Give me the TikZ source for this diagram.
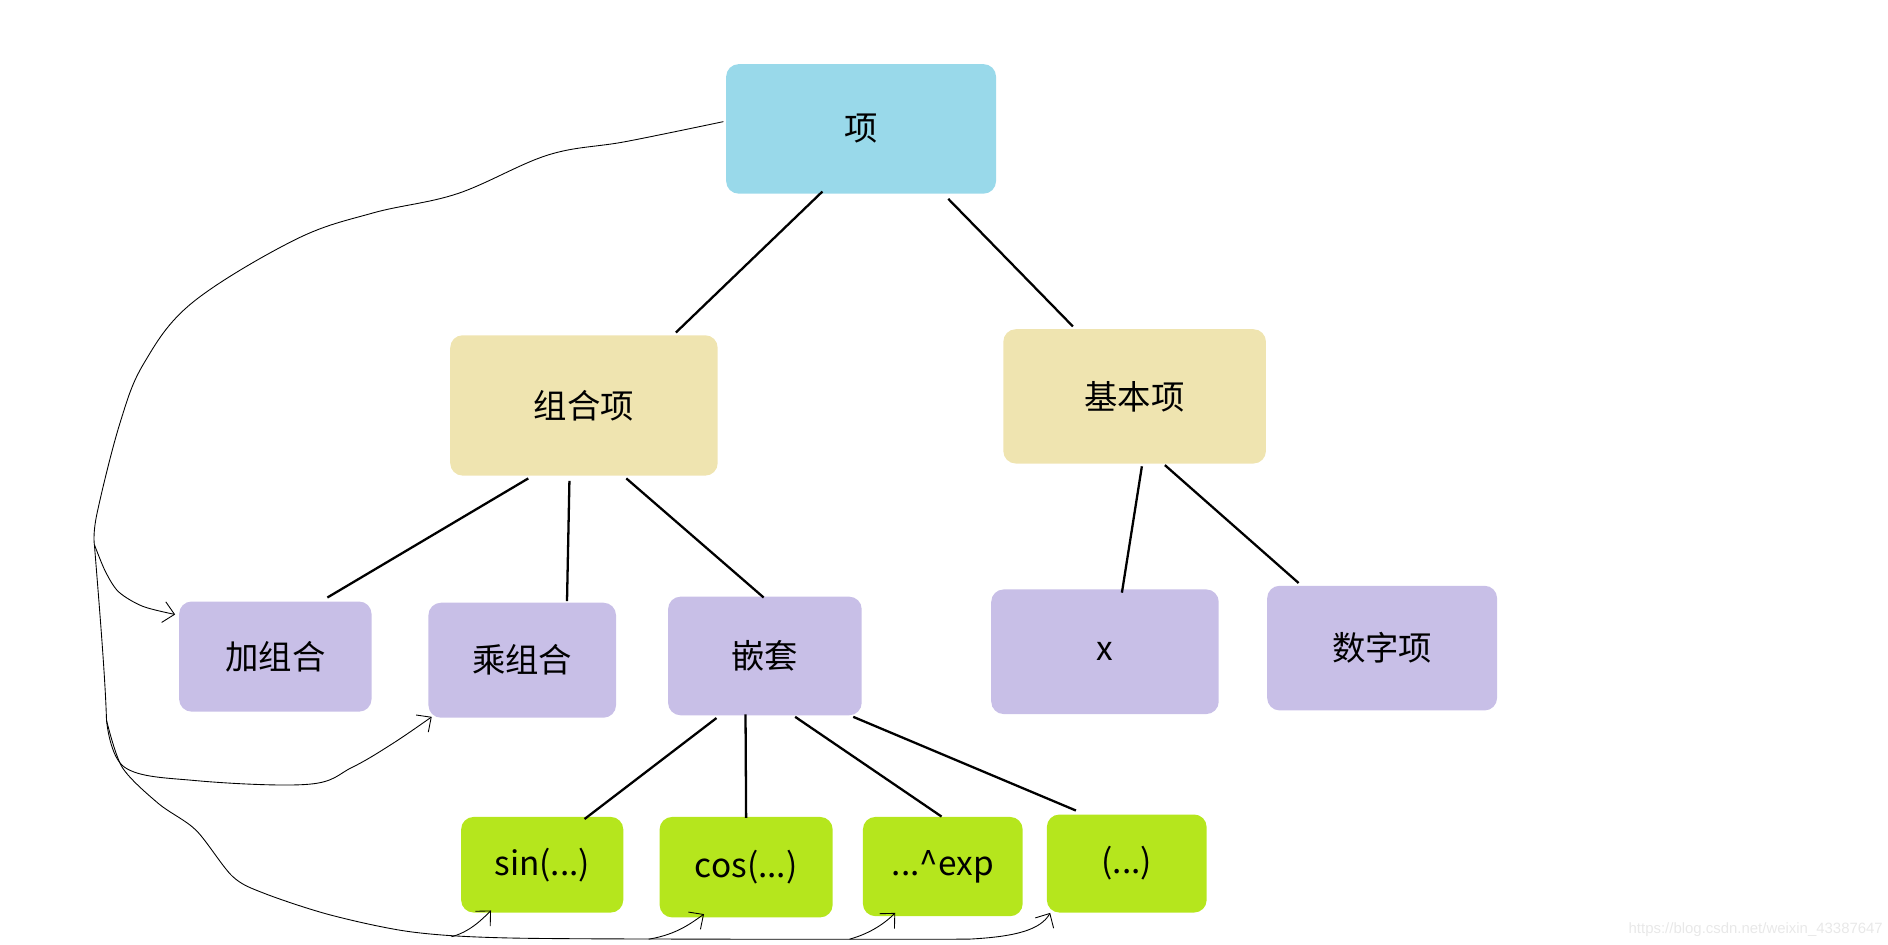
\documentclass[tikz,border=0pt]{standalone}
\usepackage{fontspec}
\setmainfont{Noto Sans CJK SC}
\newfontfamily\marksans{Liberation Sans}
\usetikzlibrary{calc,arrows.meta}
\newcommand\pxu{0.0242cm}
\definecolor{paintblue}{HTML}{99D9EA}
\definecolor{paintbeige}{HTML}{EFE4B0}
\definecolor{paintlilac}{HTML}{C8BFE7}
\definecolor{paintlime}{HTML}{B5E61D}
\tikzset{
  termbox/.style n args={3}{shape=rectangle, rounded corners=0.25cm, fill=#1,
    minimum width=#2*\pxu, minimum height=#3*\pxu, inner sep=0pt,
    font=\fontsize{19}{22}\selectfont, text=black},
  edge/.style={line width=1.3pt, black},
  hand/.style={line width=0.5pt, black},
  handtip/.style={-{Straight Barb[length=2.2mm,width=4.2mm]}}
}
\begin{document}
\begin{tikzpicture}[x=\pxu, y=-\pxu]
\useasboundingbox (0,0) rectangle (1560,780);

% boxes
\node[termbox={paintblue}{223}{107}] (xiang) at (711.5,106.5) {项};
\node[termbox={paintbeige}{221}{116}] (zuhe) at (482.5,335) {组合项};
\node[termbox={paintbeige}{217}{111}] (jiben) at (937.5,327.5) {基本项};
\node[termbox={paintlilac}{159}{91}] (jia) at (227.5,542.5) {加组合};
\node[termbox={paintlilac}{155}{95}] (cheng) at (431.5,545.5) {乘组合};
\node[termbox={paintlilac}{160}{98}] (qiantao) at (632,542) {嵌套};
\node[termbox={paintlilac}{188}{103}] (xvar) at (913,538.5) {x};
\node[termbox={paintlilac}{190}{103}] (shuzi) at (1142,535.5) {数字项};
\node[termbox={paintlime}{134}{79}] (sin) at (448,714.5) {sin(...)};
\node[termbox={paintlime}{143}{83}] (cos) at (616.5,716.5) {cos(...)};
\node[termbox={paintlime}{132}{82}] (pow) at (779,716) {...\textasciicircum exp};
\node[termbox={paintlime}{132}{81}] (paren) at (931,713.5) {(...)};

% tree edges
\draw[edge] ($(xiang.south)+(-32,-2)$) -- ($(zuhe.north)+(76,-2)$);
\draw[edge] ($(xiang.south)+(72,4)$) -- ($(jiben.north)+(-51,-2)$);
\draw[edge] ($(zuhe.south)+(-46,2)$) -- ($(jia.north)+(43,-3)$);
\draw[edge] ($(zuhe.south)+(-12,4)$) -- ($(cheng.north)+(37,-1)$);
\draw[edge] ($(zuhe.south)+(35,2)$) -- ($(qiantao.north)+(-1,1)$);
\draw[edge] ($(jiben.south)+(6,2)$) -- ($(xvar.north)+(14,3)$);
\draw[edge] ($(jiben.south)+(25,1)$) -- ($(shuzi.north)+(-69,-2)$);
\draw[edge] ($(qiantao.south)+(-40,2)$) -- ($(sin.north)+(35,2)$);
\draw[edge] ($(qiantao.south)+(-16,-1)$) -- ($(cos.north)+(0,1)$);
\draw[edge] ($(qiantao.south)+(25,1)$) -- ($(pow.north)+(-1,0)$);
\draw[edge] ($(qiantao.south)+(73,1)$) -- ($(paren.north)+(-42,-3)$);

% hand drawn recursion arrows
\coordinate (tail) at ($(xiang.west)+(-2,-6)$);
\coordinate (hub) at (78,450);
\coordinate (fork) at (88,595);
\draw[hand] plot[smooth, tension=0.6] coordinates {(tail) (517,117) (453,128)
  (378,160) (308,176) (244,198) (159,250) (119,300) (99,350) (80,425) (hub)};
\draw[hand, handtip] plot[smooth] coordinates {(hub) (87,472) (98,489) (118,501)
  ($(jia.north west)+(-3,11)$)};
\draw[hand] (hub) .. controls (82,500) and (87,560) .. (fork);
\draw[hand, handtip] plot[smooth, tension=0.6] coordinates {(fork) (103,634) (162,645)
  (255,648) (291,634) (325,614) ($(cheng.south west)+(3,-1)$)};
\draw[hand, handtip] plot[smooth, tension=0.5] coordinates {(fork) (101,634) (131,664)
  (162,686) (192,724) (218,738) (273,756) (340,770) (420,775) (600,776) (800,776)}
  .. controls (840,774) and (860,768) .. ($(paren.south west)+(3,0)$);
\coordinate (s1) at (373,774);
\coordinate (s2) at (536,776);
\coordinate (s3) at (702,776);
\draw[hand, handtip] (s1) .. controls (388,770) and (398,760) .. ($(sin.south west)+(25,-2)$);
\draw[hand, handtip] (s2) .. controls (560,772) and (572,762) .. ($(cos.south west)+(37,-3)$);
\draw[hand, handtip] (s3) .. controls (720,771) and (732,762) .. ($(pow.south west)+(27,-3)$);

% watermark
\node[text=black!9, font=\marksans\fontsize{8.5}{10}\selectfont, anchor=south east,
  inner sep=0pt] (mark) at (1556,774) {https://blog.csdn.net/weixin\_43387647};
\end{tikzpicture}
\end{document}
